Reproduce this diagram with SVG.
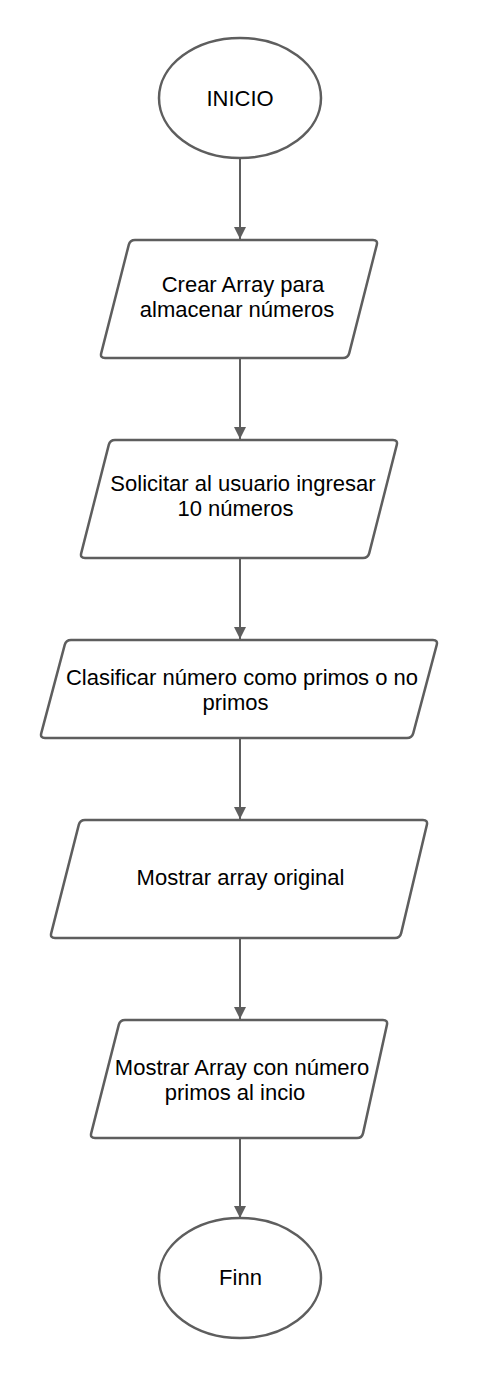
<svg xmlns="http://www.w3.org/2000/svg" width="480" height="1380" viewBox="0 0 480 1380">
  <style>
    .shape { fill: #ffffff; stroke: #5e5e5e; stroke-width: 2.5; stroke-linejoin: round; }
    .lbl { font-family: "Liberation Sans", Arial, sans-serif; font-size: 22px; fill: #000000; text-anchor: middle; }
    .conn { stroke: #5e5e5e; stroke-width: 2; fill: none; }
  </style>
  <defs>
    <marker id="arrow" markerWidth="12" markerHeight="18" refX="12" refY="9" orient="auto" markerUnits="userSpaceOnUse" viewBox="0 0 12 18">
      <path d="M0,3 L12,9 L0,15 Z" fill="#5e5e5e"/>
    </marker>
  </defs>
  <rect width="480" height="1380" fill="#ffffff"/>

  <g id="connectors">
    <line class="conn" x1="240" y1="159" x2="240" y2="239" marker-end="url(#arrow)"/>
    <line class="conn" x1="240" y1="359" x2="240" y2="439" marker-end="url(#arrow)"/>
    <line class="conn" x1="240" y1="559" x2="240" y2="639" marker-end="url(#arrow)"/>
    <line class="conn" x1="240" y1="739" x2="240" y2="819" marker-end="url(#arrow)"/>
    <line class="conn" x1="240" y1="939" x2="240" y2="1019" marker-end="url(#arrow)"/>
    <line class="conn" x1="240" y1="1139" x2="240" y2="1218" marker-end="url(#arrow)"/>
  </g>

  <g id="inicio">
    <ellipse class="shape" cx="240" cy="98" rx="81" ry="60"/>
    <text class="lbl" x="240" y="106">INICIO</text>
  </g>

  <g id="crear-array">
    <path class="shape" d="M135,240 L373,240 Q378,240 376.77,244.85 L349.23,353.15 Q348,358 343,358 L105,358 Q100,358 101.23,353.15 L128.77,244.85 Q130,240 135,240 Z"/>
    <text class="lbl" x="243" y="292">Crear Array para</text>
    <text class="lbl" x="237" y="317">almacenar números</text>
  </g>

  <g id="solicitar">
    <path class="shape" d="M115,440 L393,440 Q398,440 396.77,444.85 L369.23,553.15 Q368,558 363,558 L85,558 Q80,558 81.23,553.15 L108.77,444.85 Q110,440 115,440 Z"/>
    <text class="lbl" x="243" y="491">Solicitar al usuario ingresar</text>
    <text class="lbl" x="235.5" y="516">10 números</text>
  </g>

  <g id="clasificar">
    <path class="shape" d="M71,640 L433,640 Q438,640 436.72,644.83 L413.28,733.17 Q412,738 407,738 L45,738 Q40,738 41.28,733.17 L64.72,644.83 Q66,640 71,640 Z"/>
    <text class="lbl" x="242" y="685">Clasificar número como primos o no</text>
    <text class="lbl" x="235.5" y="710">primos</text>
  </g>

  <g id="mostrar-original">
    <path class="shape" d="M85,820 L423,820 Q428,820 426.85,824.86 L401.15,933.14 Q400,938 395,938 L55,938 Q50,938 51.23,933.15 L78.77,824.85 Q80,820 85,820 Z"/>
    <text class="lbl" x="240.5" y="885">Mostrar array original</text>
  </g>

  <g id="mostrar-primos">
    <path class="shape" d="M125,1020 L383,1020 Q388,1020 386.92,1024.88 L363.08,1133.12 Q362,1138 357,1138 L95,1138 Q90,1138 91.23,1133.15 L118.77,1024.85 Q120,1020 125,1020 Z"/>
    <text class="lbl" x="242" y="1075">Mostrar Array con número</text>
    <text class="lbl" x="235" y="1100">primos al incio</text>
  </g>

  <g id="fin">
    <ellipse class="shape" cx="240" cy="1278" rx="81" ry="60"/>
    <text class="lbl" x="240.5" y="1285">Finn</text>
  </g>
</svg>
